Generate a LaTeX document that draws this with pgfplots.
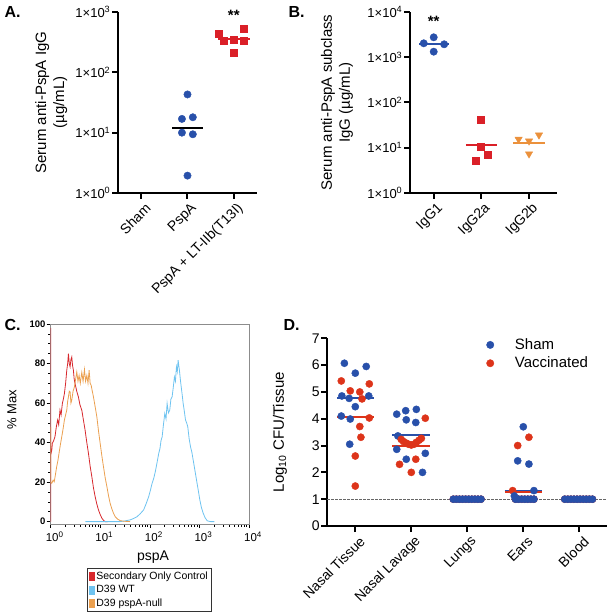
\documentclass[border=0pt]{standalone}
\usepackage{fontspec}
\setmainfont{Liberation Sans}
\usepackage{pgfplots}
\pgfplotsset{compat=1.18}
\newcommand{\fs}[2]{\fontsize{#1}{#2}\selectfont}
\definecolor{ablue}{RGB}{40,80,170}
\definecolor{ared}{RGB}{218,32,40}
\definecolor{dred}{RGB}{221,52,26}
\definecolor{borange}{RGB}{235,145,60}
\definecolor{fred}{RGB}{215,40,45}
\definecolor{fblue}{RGB}{110,195,240}
\definecolor{forange}{RGB}{235,160,80}
\pgfplotsset{
 gp/.style={scale only axis, axis lines=left, axis line style={-, line width=2bp},
  tick align=outside, major tick length=6bp, minor tick length=0pt,
  tick style={line width=2bp, black}, clip=false,
  xticklabel style={rotate=45, anchor=east, font=\fs{14bp}{16bp}, inner sep=1bp, yshift=-10bp, xshift=1bp},
  yticklabel style={font=\fs{13bp}{15bp}, inner sep=1.5bp},
  ylabel style={font=\fs{15bp}{18bp}, align=center}},
}
\begin{document}
\begin{tikzpicture}
\path[use as bounding box] (0,0) rectangle (608bp,616bp);
\node[anchor=west, font=\bfseries\fs{16bp}{18bp}] at (1bp,603.5bp) {A.};
\node[anchor=west, font=\bfseries\fs{16bp}{18bp}] at (285bp,603.5bp) {B.};
\node[anchor=west, font=\bfseries\fs{16bp}{18bp}] at (1bp,291bp) {C.};
\node[anchor=west, font=\bfseries\fs{16bp}{18bp}] at (280bp,291bp) {D.};
% ---------- A ----------
\begin{axis}[gp, at={(118bp,423bp)}, anchor=south west, width=139bp, height=181bp,
 xmin=-0.5, xmax=2.5, ymode=log, ymin=1, ymax=1000,
 xtick={0,1,2}, xticklabels={Sham,PspA,PspA + LT-IIb(T13I)},
 ytick={1,10,100,1000},
 yticklabels={1×10\textsuperscript{0},1×10\textsuperscript{1},1×10\textsuperscript{2},1×10\textsuperscript{3}},
 ylabel={Serum anti-PspA IgG\\(µg/mL)},
 ylabel style={at={(axis description cs:-0.48,0.5)}, anchor=center}]
\addplot[only marks, mark=*, mark size=3.7bp, ablue] coordinates {(1,43) (0.88,16.9) (1.115,18) (0.88,10) (1.115,9.4) (1,1.94)};
\addplot[black, line width=2bp] coordinates {(0.67,11.8) (1.33,11.8)};
\addplot[only marks, mark=square*, mark size=3.5bp, ared] coordinates {(1.68,445) (2.22,531) (1.785,336) (2,345) (2.22,336) (2,215)};
\addplot[ared, line width=2bp] coordinates {(1.66,358) (2.34,358)};
\node[font=\bfseries\fs{15bp}{17bp}, anchor=base] at (axis cs:2,736) {**};
\end{axis}
% ---------- B ----------
\begin{axis}[gp, at={(410bp,423bp)}, anchor=south west, width=147bp, height=181bp,
 xmin=-0.5, xmax=2.6, ymode=log, ymin=1, ymax=10000,
 xtick={0,1,2}, xticklabels={IgG1,IgG2a,IgG2b},
 ytick={1,10,100,1000,10000},
 yticklabels={1×10\textsuperscript{0},1×10\textsuperscript{1},1×10\textsuperscript{2},1×10\textsuperscript{3},1×10\textsuperscript{4}},
 ylabel={Serum anti-PspA subclass\\IgG (µg/mL)},
 ylabel style={at={(axis description cs:-0.497,0.5)}, anchor=center}]
\addplot[only marks, mark=*, mark size=3.7bp, ablue] coordinates {(-0.21,2033) (0,2760) (0.22,1933) (0,1327)};
\addplot[ablue, line width=2bp] coordinates {(-0.31,1995) (0.33,1995)};
\addplot[only marks, mark=square*, mark size=3.5bp, ared] coordinates {(1,42.5) (1,10.5) (1.13,7.2) (0.88,5.2)};
\addplot[ared, line width=2bp] coordinates {(0.68,11.5) (1.34,11.5)};
\addplot[only marks, mark=triangle*, mark size=4.2bp, mark options={rotate=180}, borange] coordinates {(1.79,15.4) (2.01,14.1) (2.22,19.1) (2.01,7.3)};
\addplot[borange, line width=2bp] coordinates {(1.68,12.5) (2.35,12.5)};
\node[font=\bfseries\fs{15bp}{17bp}, anchor=base] at (axis cs:0,4900) {**};
\end{axis}
% ---------- C ----------
\begin{axis}[scale only axis, at={(50.7bp,92bp)}, anchor=south west, width=198.3bp, height=200bp,
 xmode=log, xmin=1, xmax=10000, ymin=-1.2, ymax=100,
 axis line style={black!45, line width=0.7bp}, tick align=outside,
 xtick pos=bottom, ytick pos=left, tick style={black, line width=0.6bp},
 major tick length=4bp, minor tick length=2.5bp,
 ytick={0,20,40,60,80,100}, minor y tick num=3,
 xtick={1,10,100,1000,10000},
 minor xtick={2,3,4,5,6,7,8,9,20,30,40,50,60,70,80,90,200,300,400,500,600,700,800,900,2000,3000,4000,5000,6000,7000,8000,9000},
 xticklabels={10\textsuperscript{0},10\textsuperscript{1},10\textsuperscript{2},10\textsuperscript{3},10\textsuperscript{4}},
 /pgf/number format/assume math mode=true,
 yticklabel style={font=\bfseries\fs{9.5bp}{11bp}, inner sep=1bp},
 xticklabel style={font=\fs{11.5bp}{13bp}, xshift=4bp},
 ylabel={\% Max}, ylabel style={at={(axis description cs:-0.195,0.57)}, anchor=center, font=\fs{13bp}{15bp}},
 xlabel={pspA}, xlabel style={at={(axis description cs:0.516,-0.165)}, anchor=center, font=\fs{14bp}{16bp}},
 legend style={at={(0.182,-0.2215)}, anchor=north west, draw=black!80, line width=0.5bp, font=\fs{10.5bp}{12bp}, inner sep=1.5bp, row sep=0.5bp},
 legend cell align=left,
 legend image code/.code={\fill[#1] (0bp,-4bp) rectangle (5bp,4bp);}]
\addplot[fred, line width=0.8bp] coordinates {(1,0) (1,98) (1.005,34) (1.05,36) (1.08,39.6) (1.15,41) (1.22,43) (1.3,48) (1.38,51.4) (1.45,49) (1.54,56.4) (1.62,54) (1.72,59.8) (1.8,62) (1.89,64.8) (2.0,70) (2.11,76.6) (2.2,80) (2.28,85) (2.37,80) (2.46,78.3) (2.56,82) (2.66,83.3) (2.76,79) (2.87,76.6) (2.98,72) (3.10,69.9) (3.35,66) (3.62,63.1) (3.9,59) (4.24,56.4) (4.6,51) (4.94,46.3) (5.35,40) (5.78,34.5) (6.25,28) (6.76,22.7) (7.3,17) (7.89,12.6) (8.5,9) (9.20,5.9) (10,3.5) (10.8,1.7) (11.7,0.6) (12.6,0) (14,0)};
\addlegendentry{Secondary Only Control}
\addplot[fblue, line width=0.8bp] coordinates {(5,0) (25.3,0) (32,0.4) (40.3,0.9) (47,1.6) (55.1,2.5) (64,4) (74.8,5.9) (84,9) (94.6,12.6) (103,16) (111,19.4) (120,22) (129,25.3) (140,30) (151,34.5) (160,37) (168,41) (177,42.9) (188,49) (200,54.7) (212,52) (223,59.8) (237,55) (252,56.4) (266,62) (281,63.1) (297,68) (313,73.2) (328,71) (344,78.3) (358,76) (372,81.7) (383,79) (395,76.6) (412,72) (429,68.2) (450,64) (470,59.8) (495,56) (524,51.4) (552,50) (582,48) (620,42) (661,37.9) (705,35) (748,31.2) (810,26) (873,21.1) (945,16) (1019,11) (1100,7) (1194,4.2) (1300,2) (1439,0.4) (1679,0) (2000,0)};
\addlegendentry{D39 WT}
\addplot[forange, line width=0.8bp] coordinates {(1,48) (1,20) (1.05,19.4) (1.12,21) (1.18,20.2) (1.25,24) (1.32,27.8) (1.4,31) (1.47,34.5) (1.57,39) (1.67,42.9) (1.78,47) (1.89,51.4) (2.0,54) (2.11,56.4) (2.2,61) (2.28,63.1) (2.37,66) (2.46,65.7) (2.56,60) (2.66,61.5) (2.83,66) (3.01,68.2) (3.18,72) (3.36,75.8) (3.55,71) (3.74,74) (3.95,70) (4.24,75.5) (4.5,71) (4.8,77) (5.05,71) (5.36,74) (5.65,70) (5.96,76.6) (6.25,70) (6.55,69) (6.9,66) (7.29,63.1) (7.9,58) (8.53,53) (9.2,46) (9.95,39.6) (10.8,33) (11.6,27.8) (12.6,22) (13.6,17.7) (14.7,13) (15.8,9.3) (17.1,6.5) (18.5,4.2) (20,2.5) (22.5,1.2) (25.4,0.5) (30,0.2) (40,0)};
\addlegendentry{D39 pspA-null}
\end{axis}
% ---------- D ----------
\begin{axis}[gp, at={(327.3bp,90bp)}, anchor=south west, width=280bp, height=187.7bp,
 xmin=-0.5, xmax=4.5, ymin=0, ymax=7,
 xtick={0,1,2,3,4}, xticklabels={Nasal Tissue,Nasal Lavage,Lungs,Ears,Blood},
 ytick={0,1,2,3,4,5,6,7}, /pgf/number format/assume math mode=true,
 yticklabel style={font=\fs{14bp}{16bp}},
 ylabel={Log\textsubscript{10} CFU/Tissue},
 ylabel style={at={(axis description cs:-0.169,0.5)}, anchor=center},
 legend style={draw=none, fill=none, at={(0.568,0.916)}, anchor=west, inner sep=0pt, font=\fs{15bp}{17bp}, row sep=2bp, /tikz/every odd column/.style={column sep=19bp}},
 legend cell align=left,
 legend image code/.code={\draw[#1] plot coordinates {(0bp,0bp)};}]
\addlegendimage{only marks, mark=*, mark size=3.7bp, ablue}
\addlegendentry{Sham}
\addlegendimage{only marks, mark=*, mark size=3.7bp, dred}
\addlegendentry{Vaccinated}
% Nasal tissue
\addplot[forget plot, only marks, mark=*, mark size=3.6bp, ablue] coordinates {(-0.195,6.07) (0,5.70) (0.195,5.95) (-0.24,4.85) (-0.11,4.76) (0.24,4.85) (0,4.45) (-0.25,4.10) (-0.09,3.99) (-0.10,3.05)};
\addplot[forget plot, only marks, mark=*, mark size=3.6bp, dred] coordinates {(-0.25,5.41) (-0.09,5.04) (0.08,5.00) (0.25,5.30) (0.12,4.74) (0.25,4.03) (0.08,3.71) (0.10,3.31) (0,2.61) (0,1.49)};
% Nasal lavage
\addplot[forget plot, only marks, mark=*, mark size=3.6bp, ablue] coordinates {(0.74,4.17) (0.90,4.30) (1.09,4.35) (0.91,3.96) (1.08,3.86) (0.76,3.36) (0.74,2.86) (0.91,2.49) (1.25,2.71) (1.20,2.00)};
\addplot[forget plot, only marks, mark=*, mark size=3.6bp, dred] coordinates {(1.25,4.02) (0.82,3.23) (0.86,3.15) (0.91,3.09) (0.95,3.05) (1.0,3.02) (1.05,3.05) (1.09,3.12) (1.14,3.2) (1.18,3.27) (0.79,2.30) (1.08,2.49) (1.0,2.0)};
% Lungs
\addplot[forget plot, only marks, mark=*, mark size=3.6bp, dred] coordinates {(1.75,1) (1.805,1) (1.86,1) (1.915,1) (1.97,1) (2.025,1) (2.08,1) (2.135,1) (2.19,1) (2.245,1)};
\addplot[forget plot, only marks, mark=*, mark size=3.6bp, ablue] coordinates {(1.75,1) (1.805,1) (1.86,1) (1.915,1) (1.97,1) (2.025,1) (2.08,1) (2.135,1) (2.19,1) (2.245,1)};
% Ears
\addplot[forget plot, only marks, mark=*, mark size=3.6bp, dred] coordinates {(2.9,3.0) (3.1,3.31) (2.81,1.32) (2.86,1) (2.915,1) (2.97,1) (3.025,1) (3.08,1) (3.135,1) (3.19,1)};
\addplot[forget plot, only marks, mark=*, mark size=3.6bp, ablue] coordinates {(3.0,3.70) (2.9,2.43) (3.1,2.31) (3.19,1.32) (2.84,1.12) (2.86,1) (2.915,1) (2.97,1) (3.025,1) (3.08,1) (3.135,1) (3.19,1)};
% Blood
\addplot[forget plot, only marks, mark=*, mark size=3.6bp, dred] coordinates {(3.74,1) (3.795,1) (3.85,1) (3.905,1) (3.96,1) (4.015,1) (4.07,1) (4.125,1) (4.18,1) (4.235,1)};
\addplot[forget plot, only marks, mark=*, mark size=3.6bp, ablue] coordinates {(3.74,1) (3.795,1) (3.85,1) (3.905,1) (3.96,1) (4.015,1) (4.07,1) (4.125,1) (4.18,1) (4.235,1)};
% medians
\addplot[forget plot, ablue, line width=2bp] coordinates {(-0.33,4.78) (0.33,4.78)};
\addplot[forget plot, dred, line width=2bp] coordinates {(-0.33,4.07) (0.33,4.07)};
\addplot[forget plot, ablue, line width=2bp] coordinates {(0.66,3.40) (1.33,3.40)};
\addplot[forget plot, dred, line width=2bp] coordinates {(0.66,2.99) (1.33,2.99)};
\addplot[forget plot, ablue, line width=2bp] coordinates {(2.67,1.31) (3.33,1.31)};
\addplot[forget plot, dred, line width=2bp] coordinates {(2.67,1.25) (3.33,1.25)};
% limit of detection
\addplot[forget plot, black!60, line width=0.8bp, dash pattern=on 2.5bp off 1.5bp] coordinates {(-0.5,1) (4.5,1)};
\end{axis}
\end{tikzpicture}
\end{document}
